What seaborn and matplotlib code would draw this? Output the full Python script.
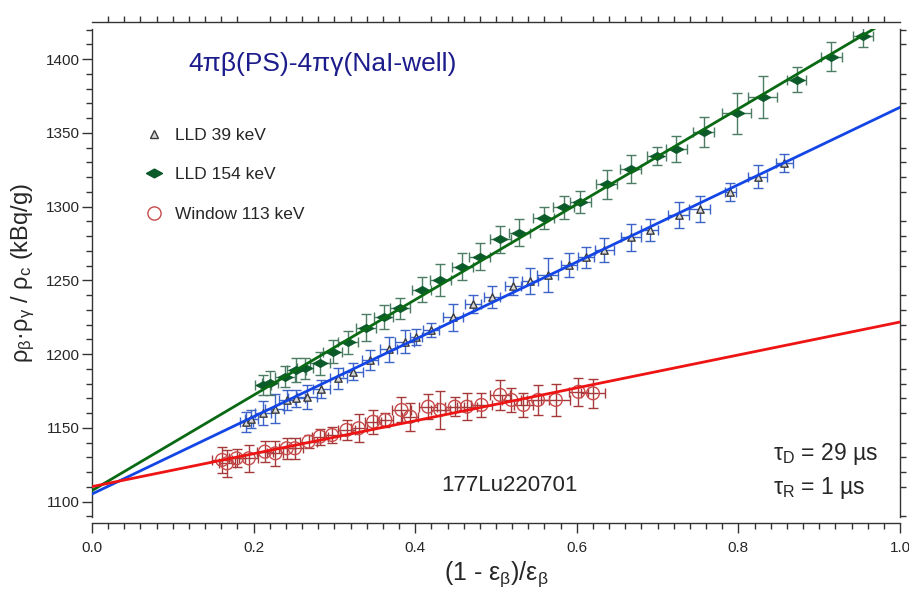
import numpy as np
import pandas as pd
import matplotlib
matplotlib.use('Agg')
import matplotlib.pyplot as plt
from matplotlib.lines import Line2D
from matplotlib.ticker import MultipleLocator
import seaborn as sns

# LLD 39 keV (triangles)
x_39 = [0.191, 0.197, 0.212, 0.226, 0.241, 0.253, 0.266, 0.284, 0.305, 0.323, 0.344,
        0.367, 0.387, 0.401, 0.420, 0.447, 0.472, 0.495, 0.521, 0.542, 0.564, 0.590,
        0.611, 0.634, 0.667, 0.690, 0.726, 0.752, 0.790, 0.824, 0.857]
y_39 = [1154.0, 1156.0, 1160.0, 1163.0, 1169.0, 1170.0, 1171.0, 1176.2, 1183.7, 1188.2, 1196.1,
        1203.3, 1208.5, 1211.9, 1216.4, 1225.0, 1234.1, 1239.0, 1246.3, 1249.7, 1253.7, 1260.5,
        1265.7, 1270.7, 1279.3, 1284.2, 1294.4, 1298.3, 1310.2, 1320.4, 1329.5]
xerr_39 = [0.008, 0.008, 0.010, 0.012, 0.010, 0.010, 0.012, 0.010, 0.010, 0.012, 0.010,
           0.010, 0.012, 0.008, 0.010, 0.012, 0.010, 0.010, 0.010, 0.010, 0.013, 0.010,
           0.010, 0.012, 0.012, 0.010, 0.013, 0.013, 0.007, 0.012, 0.010]
yerr_39 = [7, 6, 8, 10, 7, 6, 8, 6, 7, 6, 7,
           8.5, 8, 5.5, 5, 9, 6, 7.5, 6, 9, 11.5, 8,
           7, 8, 9, 7.5, 9, 9, 6, 8, 6]

# LLD 154 keV (diamonds)
x_154 = [0.212, 0.220, 0.239, 0.253, 0.264, 0.282, 0.298, 0.317, 0.339, 0.361, 0.381,
         0.408, 0.431, 0.458, 0.480, 0.505, 0.529, 0.559, 0.584, 0.604, 0.637, 0.667,
         0.699, 0.723, 0.757, 0.798, 0.830, 0.872, 0.915, 0.954]
y_154 = [1179.1, 1180.3, 1184.8, 1189.3, 1190.5, 1193.8, 1201.7, 1208.0, 1218.0, 1225.4, 1231.1,
         1243.6, 1250.4, 1259.4, 1266.1, 1277.9, 1282.4, 1292.2, 1299.6, 1303.4, 1315.1, 1325.8,
         1334.6, 1339.2, 1350.7, 1363.4, 1374.4, 1386.0, 1401.8, 1415.6]
xerr_154 = [0.010, 0.010, 0.012, 0.012, 0.010, 0.012, 0.012, 0.012, 0.012, 0.012, 0.012,
            0.012, 0.013, 0.013, 0.013, 0.013, 0.013, 0.013, 0.013, 0.013, 0.013, 0.013,
            0.012, 0.013, 0.013, 0.018, 0.018, 0.012, 0.013, 0.012]
yerr_154 = [7, 8, 7, 8, 7, 8, 8, 8, 9, 8, 7,
            8.5, 11, 9, 9, 9, 9, 7.5, 8, 7.5, 10, 9.5,
            6, 9, 10, 14, 14, 8.5, 10, 7]

# Window 113 keV (circles)
x_113 = [0.161, 0.167, 0.179, 0.194, 0.214, 0.227, 0.241, 0.251, 0.268, 0.282, 0.297,
         0.315, 0.330, 0.348, 0.363, 0.383, 0.394, 0.416, 0.431, 0.449, 0.464, 0.482,
         0.505, 0.519, 0.534, 0.552, 0.574, 0.602, 0.620]
y_113 = [1128.3, 1126.0, 1129.4, 1129.4, 1133.9, 1132.8, 1136.2, 1136.2, 1140.7, 1144.1, 1145.2,
         1148.6, 1149.8, 1154.2, 1155.4, 1162.2, 1157.6, 1164.4, 1162.2, 1164.4, 1164.4, 1165.6,
         1172.4, 1169.0, 1165.6, 1169.0, 1169.0, 1174.5, 1173.5]
xerr_113 = [0.012, 0.010, 0.010, 0.012, 0.010, 0.010, 0.010, 0.010, 0.010, 0.010, 0.010,
            0.010, 0.010, 0.010, 0.010, 0.012, 0.010, 0.011, 0.012, 0.012, 0.012, 0.013,
            0.012, 0.012, 0.012, 0.014, 0.018, 0.012, 0.015]
yerr_113 = [9, 9, 6, 9, 7, 8.5, 7, 7, 4.5, 5.5, 5.5,
            7, 9.5, 8, 4.5, 8.5, 9.5, 8.5, 13, 6.5, 9, 8,
            10, 8, 8, 10, 11, 9.5, 10]

# linear fits
fit_x = [0.0, 1.0]
fit_39 = [1105.2, 1367.4]
fit_154 = [1107.5, 1431.1]
fit_113 = [1110.2, 1221.8]

labels = ['LLD 39 keV', 'LLD 154 keV', 'Window 113 keV']

sns.set_style('ticks')
plt.rcParams['font.family'] = ['Liberation Sans', 'DejaVu Sans']
plt.rcParams['mathtext.fontset'] = 'custom'
plt.rcParams['mathtext.rm'] = 'Liberation Sans'
plt.rcParams['mathtext.it'] = 'Liberation Sans:italic'

fig = plt.figure(figsize=(9.09, 5.92), dpi=100)
ax = fig.add_axes([92/909, 1 - 517/592, 808/909, 488/592])

diamond = [(-1, 0), (0, 0.55), (1, 0), (0, -0.55), (-1, 0)]

# error bars
ax.errorbar(x_39, y_39, xerr=xerr_39, yerr=yerr_39, fmt='none', ecolor='#3d63c8',
            elinewidth=1, capsize=3.5, capthick=1, zorder=2)
ax.errorbar(x_154, y_154, xerr=xerr_154, yerr=yerr_154, fmt='none', ecolor='#4c7c64',
            elinewidth=1, capsize=3.5, capthick=1, zorder=2)
ax.errorbar(x_113, y_113, xerr=xerr_113, yerr=yerr_113, fmt='none', ecolor='#a63a3a',
            elinewidth=1, capsize=3.5, capthick=1, zorder=2)

# markers
sns.scatterplot(x=x_39, y=y_39, marker='^', s=28, color='#d8d8d8', edgecolor='#3a3a3a',
                linewidth=1, ax=ax, zorder=3)
sns.scatterplot(x=x_154, y=y_154, marker=diamond, s=120, color='#0b5a2a', edgecolor='#0b5a2a',
                linewidth=0.5, ax=ax, zorder=3)
sns.scatterplot(x=x_113, y=y_113, marker='o', s=85, facecolor='none', edgecolor='#c84a4a',
                linewidth=1, ax=ax, zorder=3)

# fit lines
sns.lineplot(x=fit_x, y=fit_154, color='#0a6a14', lw=2, ax=ax, zorder=4)
sns.lineplot(x=fit_x, y=fit_39, color='#1446e6', lw=2, ax=ax, zorder=4)
sns.lineplot(x=fit_x, y=fit_113, color='#ee1414', lw=2, ax=ax, zorder=4)

ax.set_xlim(0, 1)
ax.set_ylim(1089.6, 1420.5)

# axes styling (Igor-like, detached)
for side in ['left', 'right', 'top', 'bottom']:
    ax.spines[side].set_visible(True)
    ax.spines[side].set_color('#333333')
    ax.spines[side].set_linewidth(1)
ax.spines['bottom'].set_position(('outward', 4.5))
ax.spines['top'].set_position(('outward', 5))

ax.xaxis.set_major_locator(MultipleLocator(0.2))
ax.xaxis.set_minor_locator(MultipleLocator(0.02))
ax.yaxis.set_major_locator(MultipleLocator(50))
ax.yaxis.set_minor_locator(MultipleLocator(10))
ax.tick_params(which='both', direction='out', top=True, right=True, bottom=True, left=True,
               labeltop=False, labelright=False, color='#333333', width=1)
ax.tick_params(which='major', length=7, labelsize=11)
ax.tick_params(axis='y', which='major', pad=2)
ax.tick_params(axis='x', which='major', pad=6)
ax.tick_params(which='minor', length=4)
ax.tick_params(axis='x', which='major', top=False)
ax.tick_params(axis='y', which='major', right=False)
ax.xaxis.set_major_formatter(matplotlib.ticker.FormatStrFormatter('%.1f'))

ax.set_xlabel(r'(1 - $\mathregular{ε_β}$)/$\mathregular{ε_β}$', fontsize=18, labelpad=3)
ax.set_ylabel(r'$\mathregular{ρ_β}$·$\mathregular{ρ_γ}$ / $\mathregular{ρ_c}$ (kBq/g)',
              fontsize=17, labelpad=6)

# legend (markers only)
handles = [
    Line2D([], [], ls='none', marker='^', ms=6, mfc='#d8d8d8', mec='#3a3a3a'),
    Line2D([], [], ls='none', marker=diamond, ms=11.5, mfc='#0b5a2a', mec='#0b5a2a'),
    Line2D([], [], ls='none', marker='o', ms=9.5, mfc='none', mec='#c84a4a'),
]
ax.legend(handles, labels, loc='upper left', bbox_to_anchor=(0.045, 0.83), frameon=False,
          fontsize=12.5, handlelength=1.2, handletextpad=0.6, labelspacing=1.4)

# annotations
ax.text(0.285, 1397, '4πβ(PS)-4πγ(NaI-well)', color='#1c1c8c', fontsize=19,
        ha='center', va='center')
ax.text(0.517, 1111, '177Lu220701', fontsize=16, ha='center', va='center')
ax.text(0.843, 1132, r'$\mathregular{τ_D}$ = 29 µs', fontsize=16.5, ha='left', va='center')
ax.text(0.843, 1109.5, r'$\mathregular{τ_R}$ = 1 µs', fontsize=16.5, ha='left', va='center')

fig.savefig('out.png', dpi=100)
